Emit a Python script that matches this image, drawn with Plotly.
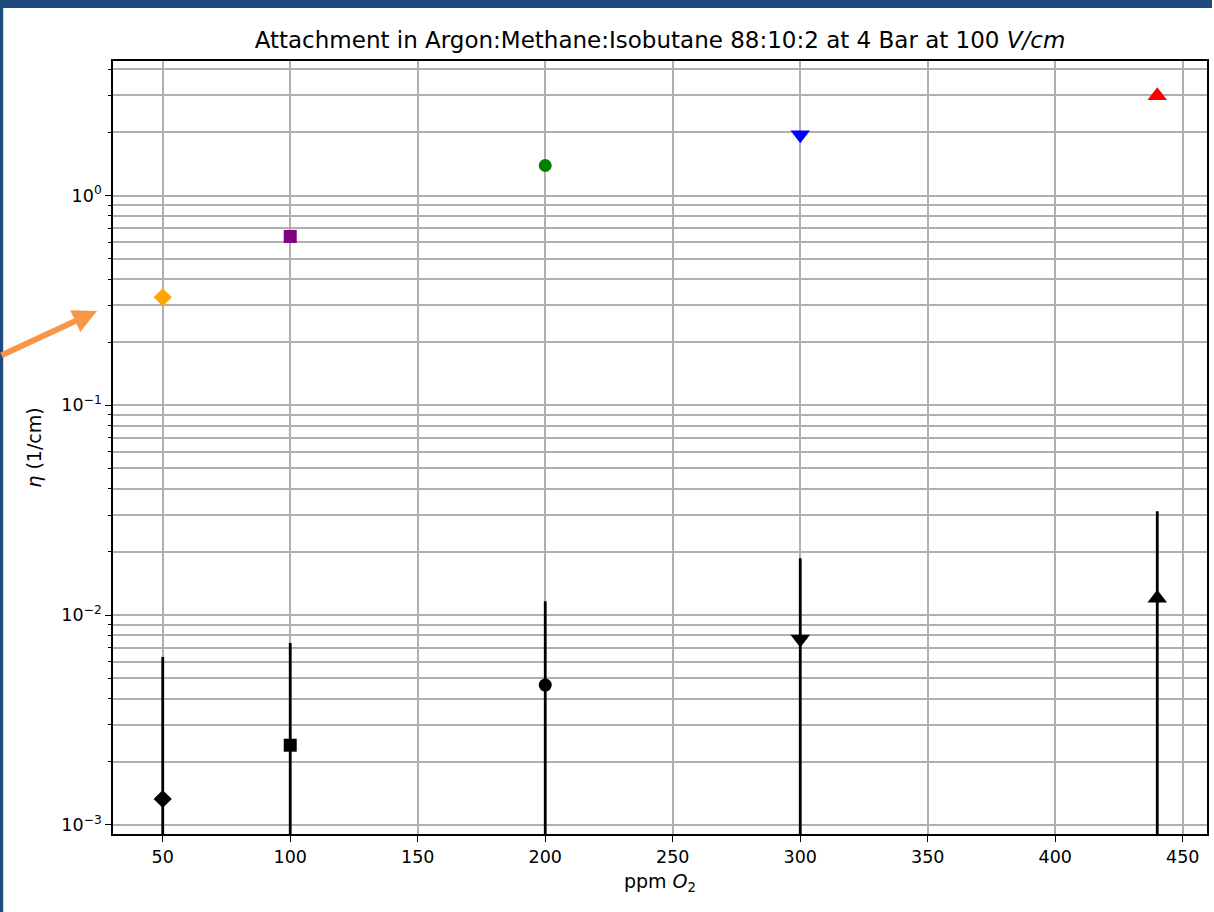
import plotly.graph_objects as go

# O2 concentrations (ppm)
ppm_o2 = [50, 100, 200, 300, 440]

# attachment coefficient eta (1/cm), upper series
eta_upper = [0.327, 0.638, 1.39, 1.95, 2.99]
upper_colors = ["orange", "purple", "green", "blue", "red"]

# attachment coefficient eta (1/cm), lower series with errors
eta_lower = [0.00133, 0.00240, 0.00464, 0.00769, 0.01205]
eta_lower_err = [0.00498, 0.00496, 0.00702, 0.01097, 0.01925]

symbols = ["diamond", "square", "circle", "triangle-down", "triangle-up"]
sizes = [14, 13, 13, 17, 17]

FONT = "DejaVu Sans"

fig = go.Figure()

# lower series with vertical error bars
for x, y, e, s, sz in zip(ppm_o2, eta_lower, eta_lower_err, symbols, sizes):
    fig.add_trace(go.Scatter(
        x=[x], y=[y], mode="markers",
        marker=dict(symbol=s, size=sz, color="black"),
        error_y=dict(type="data", array=[e], symmetric=True,
                     color="black", thickness=2.8, width=0),
        showlegend=False, cliponaxis=True,
    ))

# upper series, one colour per concentration
for x, y, c, s, sz in zip(ppm_o2, eta_upper, upper_colors, symbols, sizes):
    fig.add_trace(go.Scatter(
        x=[x], y=[y], mode="markers",
        marker=dict(symbol=s, size=sz, color=c),
        showlegend=False,
    ))

decades = [1e-3, 1e-2, 1e-1, 1e0]
decade_text = ["10<sup>−3</sup>", "10<sup>−2</sup>", "10<sup>−1</sup>", "10<sup>0</sup>"]
minor_vals = [m * d for d in decades for m in range(2, 10)]

x_ticks = [50, 100, 150, 200, 250, 300, 350, 400, 450]

grid = "#b0b0b0"

fig.update_layout(
    width=1214, height=912,
    margin=dict(l=113, r=5, t=61, b=78),
    paper_bgcolor="white", plot_bgcolor="white",
    font=dict(family=FONT, size=17.5, color="black"),
    title=dict(
        text="Attachment in Argon:Methane:Isobutane 88:10:2 at 4 Bar at 100 <i>V/cm</i>",
        x=0.5, xref="paper", xanchor="center",
        y=1 - 40 / 912, yanchor="middle",
        font=dict(family=FONT, size=23, color="black"),
    ),
    xaxis=dict(
        range=[30.5, 459.5],
        tickvals=x_ticks,
        ticks="outside", ticklen=6, tickwidth=1.3, tickcolor="black",
        showgrid=True, gridcolor=grid, gridwidth=1.5,
        showline=True, linecolor="black", linewidth=1.6, mirror=True,
        zeroline=False,
        tickfont=dict(family=FONT, size=17.5),
        title=dict(text="ppm <i>O</i><sub>2</sub>", standoff=9,
                   font=dict(family=FONT, size=19)),
    ),
    yaxis=dict(
        type="log",
        range=[-3.043, 0.641],
        tickvals=decades, ticktext=decade_text,
        ticks="outside", ticklen=6, tickwidth=1.3, tickcolor="black",
        showgrid=True, gridcolor=grid, gridwidth=1.5,
        minor=dict(tickvals=minor_vals, ticks="outside", ticklen=3.5,
                   tickwidth=1, tickcolor="black",
                   showgrid=True, gridcolor=grid, gridwidth=1.5),
        showline=True, linecolor="black", linewidth=1.6, mirror=True,
        zeroline=False,
        tickfont=dict(family=FONT, size=17.5),
    ),
)

# slide frame: dark blue strips along the top and left edges
W, H = 1214, 912
L, R, T, B = 113, 5, 61, 78
pw, ph = W - L - R, H - T - B
def px(xp):
    return (xp - L) / pw
def py(yp):
    return (H - B - yp) / ph

# y-axis title, placed as a rotated label
fig.add_annotation(
    x=px(33), y=0.5, xref="paper", yref="paper",
    text="<i>η</i> (1/cm)", textangle=-90, showarrow=False,
    xanchor="center", yanchor="middle",
    font=dict(family=FONT, size=19, color="black"),
)

frame_blue = "#1f4a7e"

# orange pointer arrow on the left (tail offset in pixels)
fig.add_annotation(
    x=px(97), y=py(311), xref="paper", yref="paper",
    ax=-109, ay=45,
    text="", showarrow=True, arrowhead=2, arrowsize=0.8,
    arrowwidth=6, arrowcolor="#f79646",
)

fig.add_shape(type="rect", xref="paper", yref="paper",
              x0=px(0), x1=px(W), y0=py(8), y1=py(-5),
              fillcolor=frame_blue, line=dict(width=0), layer="above")
fig.add_shape(type="rect", xref="paper", yref="paper",
              x0=px(-5), x1=px(3), y0=py(H + 5), y1=py(0),
              fillcolor=frame_blue, line=dict(width=0), layer="above")

fig.write_html("out.html")
